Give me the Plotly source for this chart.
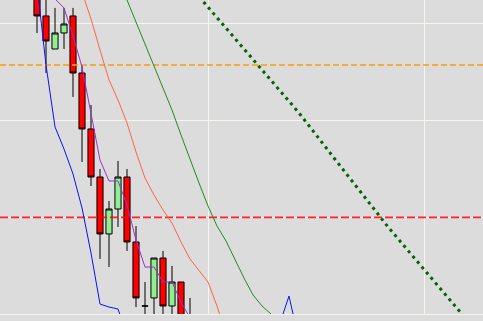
import plotly.graph_objects as go

# ---- data ----
candle_idx = list(range(18))
opens  = [134.55, 130.83, 127.41, 129.07, 130.83, 124.93, 119.14, 114.17, 108.28, 110.86,
          114.17, 107.45, 100.83, 101.66, 105.79, 100.83, 103.31, 98.86]
highs  = [135.59, 133.00, 131.66, 131.66, 131.66, 125.76, 121.62, 115.00, 111.69, 115.83,
          115.00, 109.10, 103.31, 105.79, 106.52, 104.97, 103.31, 101.66]
lows   = [129.07, 124.93, 127.41, 127.41, 122.45, 115.72, 113.24, 105.69, 104.86, 109.00,
          106.52, 100.72, 98.34, 98.34, 98.55, 98.86, 97.52, 96.79]
closes = [130.83, 128.24, 129.07, 130.00, 124.93, 119.14, 114.17, 108.28, 110.86, 114.17,
          107.45, 101.66, 100.83, 105.79, 100.83, 103.31, 98.34, 97.31]

blue_idx = list(range(30))
blue_vals = [134.04, 125.76, 119.35, 117.07, 114.48, 110.97, 106.31, 101.03, 100.72, 100.52,
             97.83] + [None] * 16 + [99.07, 101.86, 97.72]

purple_idx = list(range(1, 19))
purple_vals = [135.59, 132.59, 131.66, 128.76, 125.55, 120.59, 115.93, 113.76, 113.76, 111.28,
               107.66, 104.86, 104.86, 103.31, 103.31, 101.24, 99.59, 98.34]

salmon_idx = list(range(5, 22))
salmon_vals = [133.31, 130.52, 127.31, 124.21, 122.14, 119.76, 116.76, 114.07, 112.31, 110.76,
               109.41, 107.45, 105.69, 104.55, 103.31, 100.83, 97.83]

green_idx = list(range(9, 28))
green_vals = [134.76, 132.48, 130.21, 127.93, 125.66, 123.38, 121.10, 118.52, 115.93, 113.55,
              111.17, 109.10, 107.55, 105.59, 103.72, 101.97, 100.83, 100.00, 99.17]

dotted_idx = list(range(18, 49))
dotted_vals = [132.82, 131.75, 130.67, 129.60, 128.51, 127.44, 126.36, 125.28, 124.19, 123.10,
               122.01, 120.92, 119.77, 118.56, 117.35, 116.14, 114.93, 113.72, 112.52, 111.32,
               110.11, 109.01, 107.91, 106.82, 105.71, 104.61, 103.52, 102.42, 101.32, 100.23,
               99.13]

orange_level = 125.76
red_level = 110.0

x_range = [-4.111, 49.556]
y_range = [100.0, 132.48]

BG = "#DCDCDC"
GRID = "#F6F6EE"

fig = go.Figure()

# horizontal levels
fig.add_trace(go.Scatter(x=x_range, y=[orange_level, orange_level], mode="lines",
                         line=dict(color="rgba(250,160,20,0.8)", width=2, dash="6px,3px"),
                         hoverinfo="skip"))
fig.add_trace(go.Scatter(x=x_range, y=[red_level, red_level], mode="lines",
                         line=dict(color="rgba(255,0,0,0.85)", width=1.8, dash="8px,3px"),
                         hoverinfo="skip"))

# indicator lines
fig.add_trace(go.Scatter(x=blue_idx, y=blue_vals, mode="lines",
                         line=dict(color="#1010F0", width=1)))
fig.add_trace(go.Scatter(x=purple_idx, y=purple_vals, mode="lines",
                         line=dict(color="#9932CC", width=1)))
fig.add_trace(go.Scatter(x=salmon_idx, y=salmon_vals, mode="lines",
                         line=dict(color="tomato", width=1)))
fig.add_trace(go.Scatter(x=green_idx, y=green_vals, mode="lines",
                         line=dict(color="#228B22", width=1)))
fig.add_trace(go.Scatter(x=dotted_idx, y=dotted_vals, mode="lines",
                         line=dict(color="#006400", width=3, dash="3px,4px")))

# candles
fig.add_trace(go.Candlestick(
    x=candle_idx, open=opens, high=highs, low=lows, close=closes,
    increasing=dict(line=dict(color="black", width=1), fillcolor="#90EE90"),
    decreasing=dict(line=dict(color="black", width=1), fillcolor="#FF0000"),
    whiskerwidth=0,
))

fig.update_layout(
    width=483, height=321,
    margin=dict(l=0, r=0, t=0, b=7),
    paper_bgcolor=BG, plot_bgcolor=BG,
    showlegend=False,
    boxgap=0.2, boxgroupgap=0.15,
    xaxis=dict(range=x_range, showgrid=True, gridcolor=GRID, gridwidth=1,
               tick0=19, dtick=24, showticklabels=False, ticks="", zeroline=False,
               showline=True, linecolor=GRID, linewidth=1,
               rangeslider=dict(visible=False)),
    yaxis=dict(range=y_range, showgrid=True, gridcolor=GRID, gridwidth=1,
               tick0=0, dtick=10, showticklabels=False, ticks="", zeroline=False),
)

fig.write_html("out.html")
